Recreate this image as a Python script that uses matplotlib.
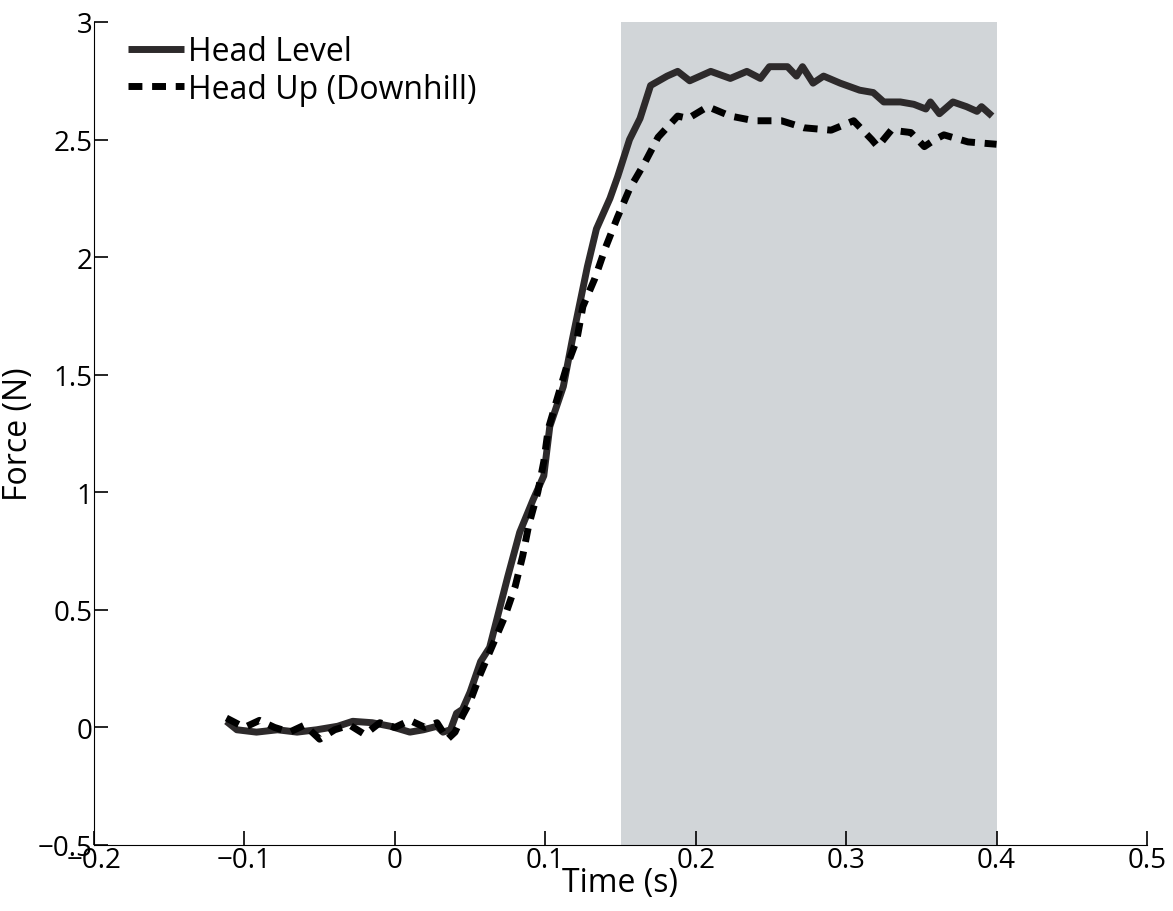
import matplotlib
matplotlib.use('Agg')
import matplotlib.pyplot as plt

plt.rcParams['font.family'] = ['Open Sans', 'DejaVu Sans']

# Head Level (solid)
level_t = [-0.112, -0.105, -0.092, -0.078, -0.065, -0.052, -0.038, -0.028, -0.015, -0.003,
           0.010, 0.019, 0.028, 0.032, 0.037, 0.041, 0.045, 0.050, 0.057, 0.063,
           0.075, 0.083, 0.092, 0.099, 0.103, 0.112, 0.118, 0.128, 0.134, 0.143,
           0.148, 0.156, 0.163, 0.170, 0.181, 0.188, 0.196, 0.210, 0.223, 0.234,
           0.243, 0.249, 0.261, 0.267, 0.271, 0.278, 0.285, 0.296, 0.309, 0.318,
           0.325, 0.336, 0.345, 0.353, 0.356, 0.362, 0.371, 0.380, 0.387, 0.390, 0.397]
level_f = [0.026, -0.01, -0.02, -0.01, -0.02, -0.01, 0.005, 0.026, 0.02, 0.005,
           -0.02, -0.01, 0.005, -0.02, -0.01, 0.06, 0.077, 0.15, 0.28, 0.34,
           0.64, 0.83, 0.97, 1.07, 1.28, 1.45, 1.65, 1.96, 2.12, 2.25,
           2.34, 2.50, 2.59, 2.73, 2.77, 2.79, 2.75, 2.79, 2.76, 2.79,
           2.76, 2.81, 2.81, 2.77, 2.81, 2.74, 2.77, 2.74, 2.71, 2.70,
           2.66, 2.66, 2.65, 2.63, 2.66, 2.61, 2.66, 2.64, 2.62, 2.64, 2.60]

# Head Up (Downhill) (dashed)
up_t = [-0.112, -0.100, -0.090, -0.080, -0.070, -0.060, -0.050, -0.040, -0.030, -0.020,
        -0.010, 0.000, 0.010, 0.020, 0.028, 0.035, 0.040, 0.045, 0.050, 0.057,
        0.073, 0.080, 0.085, 0.089, 0.095, 0.099, 0.102, 0.108, 0.114, 0.121,
        0.125, 0.133, 0.140, 0.148, 0.156, 0.166, 0.175, 0.188, 0.195, 0.208,
        0.223, 0.239, 0.257, 0.272, 0.290, 0.305, 0.317, 0.321, 0.330, 0.343,
        0.352, 0.359, 0.365, 0.381, 0.400]
up_f = [0.04, 0.00, 0.03, 0.00, -0.02, 0.01, -0.05, -0.01, 0.01, -0.03,
        0.02, 0.00, 0.03, 0.00, 0.02, -0.05, -0.02, 0.05, 0.11, 0.23,
        0.47, 0.60, 0.73, 0.86, 1.00, 1.13, 1.27, 1.40, 1.53, 1.65,
        1.79, 1.91, 2.04, 2.17, 2.29, 2.40, 2.51, 2.60, 2.59, 2.64,
        2.60, 2.58, 2.58, 2.55, 2.54, 2.58, 2.50, 2.47, 2.54, 2.53,
        2.47, 2.50, 2.52, 2.49, 2.48]

SHADE = (0.15, 0.40)

fig = plt.figure(figsize=(11.73, 9.12), dpi=100)
ax = fig.add_axes([94 / 1173, 1 - 846 / 912, (1147 - 94) / 1173, (846 - 23) / 912])

ax.axvspan(*SHADE, color='#d1d5d8', lw=0, zorder=0)
ax.plot(level_t, level_f, color='#2d2a2b', lw=5, solid_capstyle='butt',
        label='Head Level', zorder=2)
ax.plot(up_t, up_f, color='black', lw=5, dashes=(2.0, 1.4),
        label='Head Up (Downhill)', zorder=3)

ax.set_xlim(-0.2, 0.5)
ax.set_ylim(-0.5, 3)
ax.set_xticks([-0.2, -0.1, 0, 0.1, 0.2, 0.3, 0.4, 0.5])
ax.set_xticklabels(['\u22120.2', '\u22120.1', '0', '0.1', '0.2', '0.3', '0.4', '0.5'])
ax.set_yticks([-0.5, 0, 0.5, 1, 1.5, 2, 2.5, 3])
ax.set_yticklabels(['\u22120.5', '0', '0.5', '1', '1.5', '2', '2.5', '3'])
ax.spines['top'].set_visible(False)
ax.spines['right'].set_visible(False)
ax.tick_params(direction='in', length=10, width=1.2, labelsize=20, pad=1)
ax.set_xlabel('Time (s)', fontsize=23, labelpad=-6)
ax.set_ylabel('Force (N)', fontsize=23, labelpad=2)

ax.legend(loc='upper left', bbox_to_anchor=(0.02, 1.0), frameon=False,
          fontsize=23, handlelength=1.75, handletextpad=0.12, labelspacing=0.15,
          borderaxespad=0)

plt.savefig('out.png', dpi=100)
